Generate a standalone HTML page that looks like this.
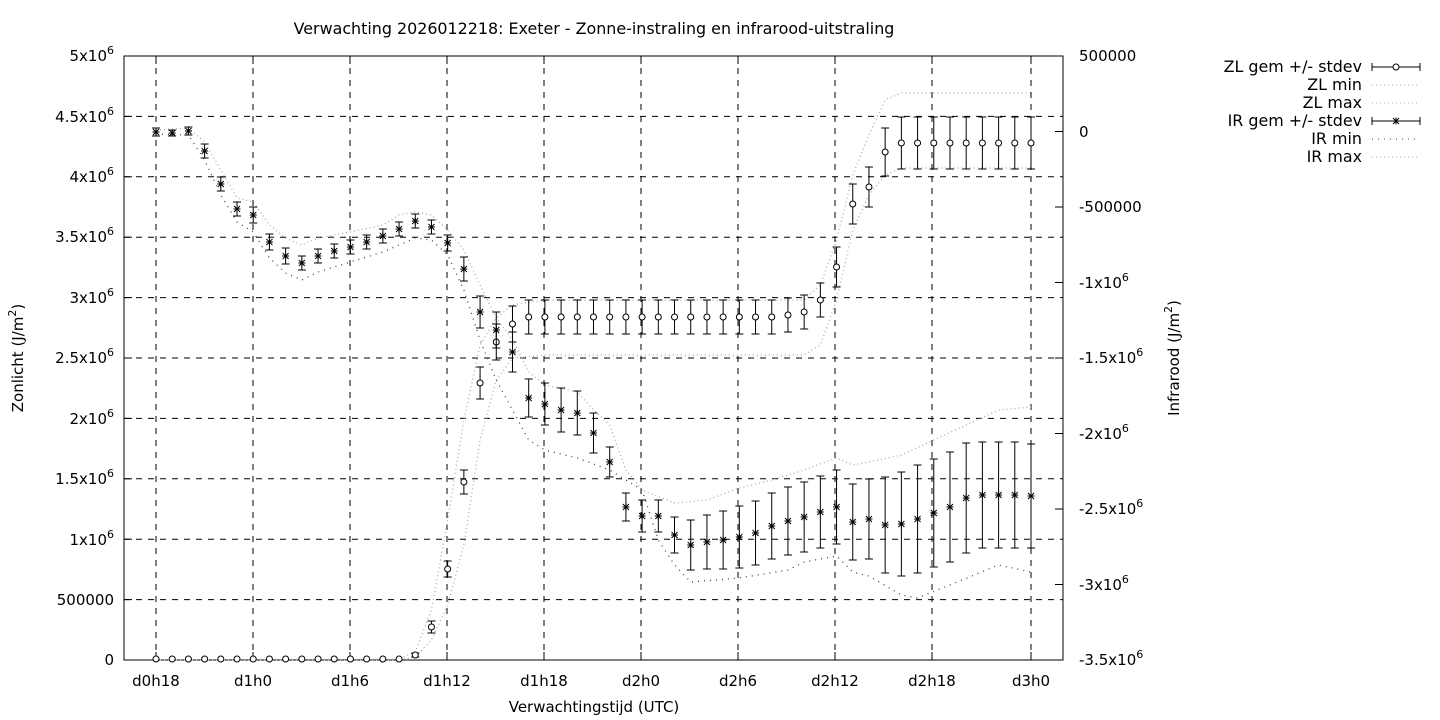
<!DOCTYPE html>
<html><head><meta charset="utf-8"><style>
body{margin:0;background:#fff}
svg{display:block;font-family:"DejaVu Sans","Liberation Sans",sans-serif;font-size:15px}
</style></head><body>
<svg id="s" width="1440" height="720" viewBox="0 0 1440 720" xmlns="http://www.w3.org/2000/svg">
<rect width="1440" height="720" fill="#fff"/>
<text x="594" y="34" text-anchor="middle" font-size="15.9">Verwachting 2026012218: Exeter - Zonne-instraling en infrarood-uitstraling</text>
<g id="grid" stroke="#000" stroke-width="1" stroke-dasharray="6,6" fill="none"></g>
<rect x="124" y="56" width="939" height="604" fill="none" stroke="#000"/>
<g id="ticks" stroke="#000"></g>
<g text-anchor="end">
<text x="114" y="665">0</text>
<text x="114" y="605">500000</text>
<text x="114" y="545">1x10<tspan font-size="11" dy="-7">6</tspan></text>
<text x="114" y="484">1.5x10<tspan font-size="11" dy="-7">6</tspan></text>
<text x="114" y="424">2x10<tspan font-size="11" dy="-7">6</tspan></text>
<text x="114" y="363">2.5x10<tspan font-size="11" dy="-7">6</tspan></text>
<text x="114" y="303">3x10<tspan font-size="11" dy="-7">6</tspan></text>
<text x="114" y="242">3.5x10<tspan font-size="11" dy="-7">6</tspan></text>
<text x="114" y="182">4x10<tspan font-size="11" dy="-7">6</tspan></text>
<text x="114" y="122">4.5x10<tspan font-size="11" dy="-7">6</tspan></text>
<text x="114" y="61">5x10<tspan font-size="11" dy="-7">6</tspan></text>
</g>
<g text-anchor="start">
<text x="1079" y="61">500000</text>
<text x="1079" y="137">0</text>
<text x="1079" y="212">-500000</text>
<text x="1079" y="288">-1x10<tspan font-size="11" dy="-7">6</tspan></text>
<text x="1079" y="363">-1.5x10<tspan font-size="11" dy="-7">6</tspan></text>
<text x="1079" y="439">-2x10<tspan font-size="11" dy="-7">6</tspan></text>
<text x="1079" y="514">-2.5x10<tspan font-size="11" dy="-7">6</tspan></text>
<text x="1079" y="590">-3x10<tspan font-size="11" dy="-7">6</tspan></text>
<text x="1079" y="665">-3.5x10<tspan font-size="11" dy="-7">6</tspan></text>
</g>
<g text-anchor="middle">
<text x="156" y="686">d0h18</text><text x="253" y="686">d1h0</text><text x="350" y="686">d1h6</text>
<text x="447" y="686">d1h12</text><text x="544" y="686">d1h18</text><text x="641" y="686">d2h0</text>
<text x="738" y="686">d2h6</text><text x="835" y="686">d2h12</text><text x="932" y="686">d2h18</text>
<text x="1031" y="686">d3h0</text>
<text x="594" y="712">Verwachtingstijd (UTC)</text>
</g>
<text transform="translate(23,358) rotate(-90)" text-anchor="middle">Zonlicht (J/m<tspan font-size="11" dy="-7">2</tspan><tspan dy="7">)</tspan></text>
<text transform="translate(1179,358) rotate(-90)" text-anchor="middle">Infrarood (J/m<tspan font-size="11" dy="-7">2</tspan><tspan dy="7">)</tspan></text>
<g text-anchor="end" font-size="15.9">
<text x="1362" y="72">ZL gem +/- stdev</text>
<text x="1362" y="90">ZL min</text>
<text x="1362" y="108">ZL max</text>
<text x="1362" y="126">IR gem +/- stdev</text>
<text x="1362" y="144">IR min</text>
<text x="1362" y="162">IR max</text>
</g>
<g id="data"></g>
</svg>
<script>
var NS="http://www.w3.org/2000/svg",g=document.getElementById('grid'),t=document.getElementById('ticks'),d=document.getElementById('data');
function el(p,n,a){var e=document.createElementNS(NS,n);for(var k in a)e.setAttribute(k,a[k]);p.appendChild(e);return e;}
var xs=[156,253,350,447,544,641,738,835,932,1031];
xs.forEach(function(x){el(g,'line',{x1:x,y1:56,x2:x,y2:660});el(t,'line',{x1:x,y1:660,x2:x,y2:652});el(t,'line',{x1:x,y1:56,x2:x,y2:64});});
for(var i=1;i<10;i++){var y=660-i*60.4;el(g,'line',{x1:124,y1:y,x2:1063,y2:y});el(t,'line',{x1:124,y1:y,x2:132,y2:y});}
for(var i=1;i<8;i++){var y=660-i*75.5;el(t,'line',{x1:1063,y1:y,x2:1055,y2:y});}
function X(h){return 156+h*(1031-156)/54;}
var zl=[659,659,659,659,659,659,659,659,659,659,659,659,659,659,659,659,655,627,569,482,383,342,324,317,317,317,317,317,317,317,317,317,317,317,317,317,317,317,317,315,312,300,267,204,187,152,143,143,143,143,143,143,143,143,143];
var zle=[0,0,0,0,0,0,0,0,0,0,0,0,0,0,0,0,2,6,8,12,16,18,18,17,17,17,17,17,17,17,17,17,17,17,17,17,17,17,17,17,17,17,20,20,20,24,26,26,26,26,26,26,26,26,26];
var ir=[132,133,131,151,184,209,215,242,256,263,256,251,247,242,236,229,221,227,243,269,312,330,352,398,404,410,413,433,462,507,516,516,535,545,542,540,537,533,526,521,517,512,507,522,519,525,524,519,513,507,498,495,495,495,496];
var ire=[4,3,4,7,7,7,8,8,8,7,7,7,7,7,7,7,7,7,8,12,16,18,20,19,21,22,22,20,15,14,16,16,18,25,27,29,31,32,33,34,35,36,37,38,40,48,52,54,54,55,55,53,53,53,52];
function poly(pts,dash,col){el(d,'polyline',{points:pts.map(function(p){return p[0]+','+p[1]}).join(' '),fill:'none',stroke:col,'stroke-width':1.3,'stroke-dasharray':dash});}
function interp(k){var a=[];for(var i=0;i<k.length;i++)a.push([X(k[i][0]),k[i][1]]);return a;}
poly(interp([[0,660],[15,660],[16,657],[17,640],[18,605],[19,545],[20,440],[21,380],[22,358],[24,355],[40,355],[41,345],[42,300],[43,230],[44,195],[45,175],[46,168],[54,168]]),'1,3','#aaa');
poly(interp([[0,660],[15,659],[16,652],[17,610],[18,520],[19,420],[20,345],[21,318],[22,305],[24,300],[40,300],[41,285],[42,240],[43,175],[44,135],[45,100],[46,93],[54,93]]),'1,3','#aaa');
poly(interp([[0,134],[2,135],[3,160],[4,195],[5,222],[6,232],[7,258],[8,273],[9,280],[10,272],[12,262],[14,252],[16,238],[17,240],[18,255],[19,290],[20,340],[21,380],[22,410],[23,440],[24,450],[26,458],[28,470],[30,490],[31,540],[32,565],[33,582],[36,578],[39,570],[40,562],[42,556],[43,572],[44,576],[46,595],[47,598],[49,585],[52,565],[54,572]]),'1,5','#444');
poly(interp([[0,130],[2,128],[3,142],[4,170],[5,198],[6,202],[7,225],[8,238],[9,245],[10,238],[12,232],[14,225],[15,215],[16,212],[17,215],[18,230],[19,250],[20,285],[21,318],[22,340],[23,372],[24,385],[26,392],[27,410],[28,425],[29,470],[30,490],[32,503],[34,500],[36,488],[38,480],[40,470],[42,458],[43,465],[44,462],[46,455],[48,440],[50,425],[52,410],[54,407]]),'1,3','#aaa');
function bar(x,y,e){if(e<1)return;el(d,'line',{x1:x,y1:y-e,x2:x,y2:y+e,stroke:'#000'});el(d,'line',{x1:x-4,y1:y-e,x2:x+4,y2:y-e,stroke:'#000'});el(d,'line',{x1:x-4,y1:y+e,x2:x+4,y2:y+e,stroke:'#000'});}
function star(x,y){var r=3.5;el(d,'path',{d:'M'+(x-r)+','+y+'h'+(2*r)+'M'+x+','+(y-r)+'v'+(2*r)+'M'+(x-3)+','+(y-3)+'l6,6M'+(x-3)+','+(y+3)+'l6,-6',stroke:'#000','stroke-width':1});}
for(var h=0;h<=54;h++){var x=X(h);bar(x,zl[h],zle[h]);el(d,'circle',{cx:x,cy:zl[h],r:3,fill:'#fff',stroke:'#000'});bar(x,ir[h],ire[h]);star(x,ir[h]);}
el(d,'line',{x1:1372,y1:67,x2:1420,y2:67,stroke:'#000'});el(d,'line',{x1:1372,y1:63,x2:1372,y2:71,stroke:'#000'});el(d,'line',{x1:1420,y1:63,x2:1420,y2:71,stroke:'#000'});el(d,'circle',{cx:1396,cy:67,r:3,fill:'#fff',stroke:'#000'});
el(d,'line',{x1:1372,y1:85,x2:1420,y2:85,stroke:'#aaa','stroke-dasharray':'1,3'});
el(d,'line',{x1:1372,y1:103,x2:1420,y2:103,stroke:'#aaa','stroke-dasharray':'1,3'});
el(d,'line',{x1:1372,y1:121,x2:1420,y2:121,stroke:'#000'});el(d,'line',{x1:1372,y1:117,x2:1372,y2:125,stroke:'#000'});el(d,'line',{x1:1420,y1:117,x2:1420,y2:125,stroke:'#000'});star(1396,121);
el(d,'line',{x1:1372,y1:139,x2:1420,y2:139,stroke:'#444','stroke-dasharray':'1,5'});
el(d,'line',{x1:1372,y1:157,x2:1420,y2:157,stroke:'#aaa','stroke-dasharray':'1,3'});
</script>
</body></html>
